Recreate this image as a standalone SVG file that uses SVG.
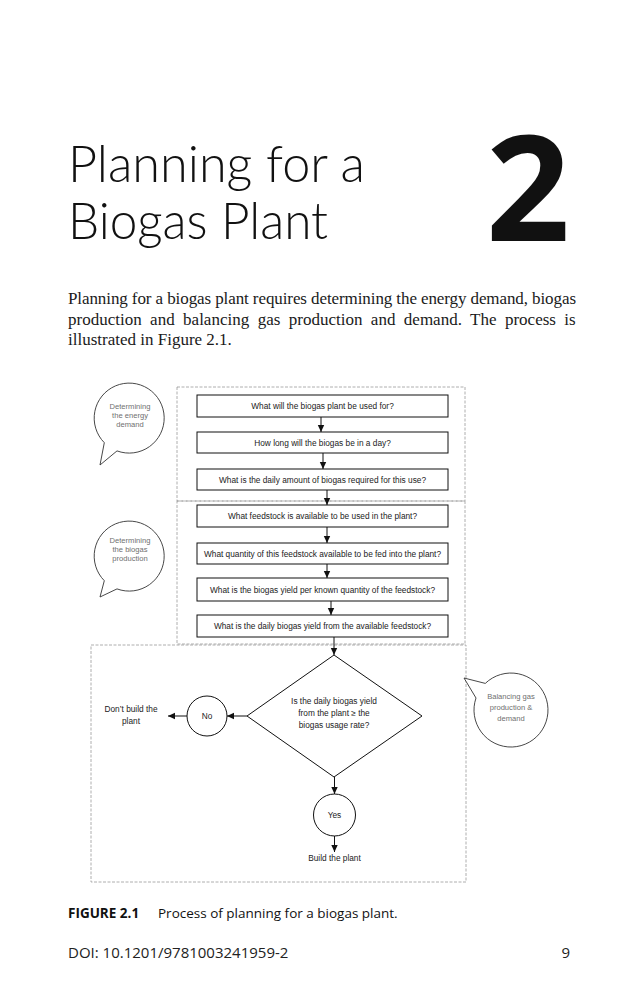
<svg xmlns="http://www.w3.org/2000/svg" width="639" height="1000" viewBox="0 0 639 1000">
<defs>
<marker id="ah" markerUnits="userSpaceOnUse" markerWidth="8" markerHeight="8" viewBox="0 0 8 8" refX="7" refY="4" orient="auto">
<path d="M0,0.8 L7,4 L0,7.2 Z" fill="#111"/>
</marker>
<style>
.title{font-family:Lato,"Open Sans",sans-serif;font-weight:300;font-size:52px;fill:#111}
.num{font-family:"Open Sans","Noto Sans",sans-serif;font-weight:700;font-size:147px;fill:#111}
.para{font-family:"Liberation Serif","Times New Roman",serif;font-size:17px;fill:#1a1a1a}
.zone{fill:none;stroke:#9a9a9a;stroke-width:0.8;stroke-dasharray:3 1.5}
.box{fill:#fff;stroke:#111;stroke-width:1}
.bt{font-family:"Liberation Sans",Arial,sans-serif;font-size:8.3px;fill:#222;text-anchor:middle}
.bub{fill:#fff;stroke:#333;stroke-width:0.9}
.bubt{font-family:"Liberation Sans",Arial,sans-serif;font-size:7.6px;fill:#6f6f6f;text-anchor:middle}
.con{fill:none;stroke:#111;stroke-width:1;marker-end:url(#ah)}
.cap{font-family:"Open Sans","Noto Sans",sans-serif;font-size:13.5px;fill:#111}
.foot{font-family:"Open Sans","Noto Sans",sans-serif;font-size:15px;fill:#222}
</style>
</defs>
<rect width="639" height="1000" fill="#fff"/>

<g id="heading">
<text class="title" x="68" y="182" textLength="297" lengthAdjust="spacingAndGlyphs">Planning for a</text>
<text class="title" x="68" y="239" textLength="260" lengthAdjust="spacingAndGlyphs">Biogas Plant</text>
<text class="num" x="486" y="241">2</text>
</g>

<g id="paragraph">
<text class="para" x="68" y="304" textLength="508" lengthAdjust="spacing">Planning for a biogas plant requires determining the energy demand, biogas</text>
<text class="para" x="68" y="325" word-spacing="4.2">production and balancing gas production and demand. The process is</text>
<text class="para" x="68" y="345">illustrated in Figure 2.1.</text>
</g>

<g id="zones">
<rect class="zone" x="177" y="387" width="288" height="114"/>
<rect class="zone" x="177" y="501" width="288" height="143"/>
<rect class="zone" x="91" y="645" width="375" height="237"/>
</g>

<g id="bubble-energy">
<path class="bub" d="M117,450.9 A35,35 0 1 0 104.3,442.7 L100,465 Z"/>
<text class="bubt" x="130" y="409">Determining</text>
<text class="bubt" x="130" y="418">the energy</text>
<text class="bubt" x="130" y="427">demand</text>
</g>

<g id="bubble-production">
<path class="bub" d="M117,588.9 A35,35 0 1 0 104.3,580.7 L100,597 Z"/>
<text class="bubt" x="130" y="543">Determining</text>
<text class="bubt" x="130" y="552">the biogas</text>
<text class="bubt" x="130" y="561">production</text>
</g>

<g id="bubble-balancing">
<path class="bub" d="M485.3,683.4 A37,37 0 1 1 476,698 L464,678 Z"/>
<text class="bubt" x="511" y="699">Balancing gas</text>
<text class="bubt" x="511" y="710">production &amp;</text>
<text class="bubt" x="511" y="721">demand</text>
</g>

<g id="q1">
<rect class="box" x="197" y="395" width="251" height="22"/>
<text class="bt" x="322.5" y="409">What will the biogas plant be used for?</text>
</g>
<g id="q2">
<rect class="box" x="197" y="432" width="251" height="21"/>
<text class="bt" x="322.5" y="445.5">How long will the biogas be in a day?</text>
</g>
<g id="q3">
<rect class="box" x="197" y="469" width="251" height="21"/>
<text class="bt" x="322.5" y="482.5">What is the daily amount of biogas required for this use?</text>
</g>
<g id="q4">
<rect class="box" x="197" y="505" width="251" height="22"/>
<text class="bt" x="322.5" y="519">What feedstock is available to be used in the plant?</text>
</g>
<g id="q5">
<rect class="box" x="197" y="543" width="251" height="21"/>
<text class="bt" x="322.5" y="556.5">What quantity of this feedstock available to be fed into the plant?</text>
</g>
<g id="q6">
<rect class="box" x="197" y="578" width="251" height="23"/>
<text class="bt" x="322.5" y="592.5">What is the biogas yield per known quantity of the feedstock?</text>
</g>
<g id="q7">
<rect class="box" x="197" y="615" width="251" height="22"/>
<text class="bt" x="322.5" y="629">What is the daily biogas yield from the available feedstock?</text>
</g>

<g id="decision">
<path class="box" d="M334,655 L422,716 L334,777 L247,716 Z"/>
<text class="bt" x="334" y="704">Is the daily biogas yield</text>
<text class="bt" x="334" y="716">from the plant ≥ the</text>
<text class="bt" x="334" y="728">biogas usage rate?</text>
</g>

<g id="no">
<circle class="box" cx="207" cy="716" r="20"/>
<text class="bt" x="207" y="719">No</text>
</g>
<g id="dont-build">
<text class="bt" x="131" y="712">Don’t build the</text>
<text class="bt" x="131" y="724">plant</text>
</g>
<g id="yes">
<circle class="box" cx="334.5" cy="815" r="21"/>
<text class="bt" x="334.5" y="818">Yes</text>
</g>
<g id="build">
<text class="bt" x="334.5" y="861">Build the plant</text>
</g>

<g id="connectors">
<path class="con" d="M321,417 V432"/>
<path class="con" d="M323,453 V469"/>
<path class="con" d="M327,490 V505"/>
<path class="con" d="M327,527 V543"/>
<path class="con" d="M327,564 V578"/>
<path class="con" d="M331,601 V615"/>
<path class="con" d="M334,637 V655"/>
<path class="con" d="M247,716 H227"/>
<path class="con" d="M187,716 H168"/>
<path class="con" d="M334.5,777 V794"/>
<path class="con" d="M334.5,836 V852"/>
</g>

<g id="caption">
<text class="cap" x="68" y="918"><tspan font-weight="700">FIGURE 2.1</tspan><tspan x="158">Process of planning for a biogas plant.</tspan></text>
<text class="foot" x="68" y="958">DOI: 10.1201/9781003241959-2</text>
<text class="foot" x="570" y="958" text-anchor="end">9</text>
</g>
</svg>
